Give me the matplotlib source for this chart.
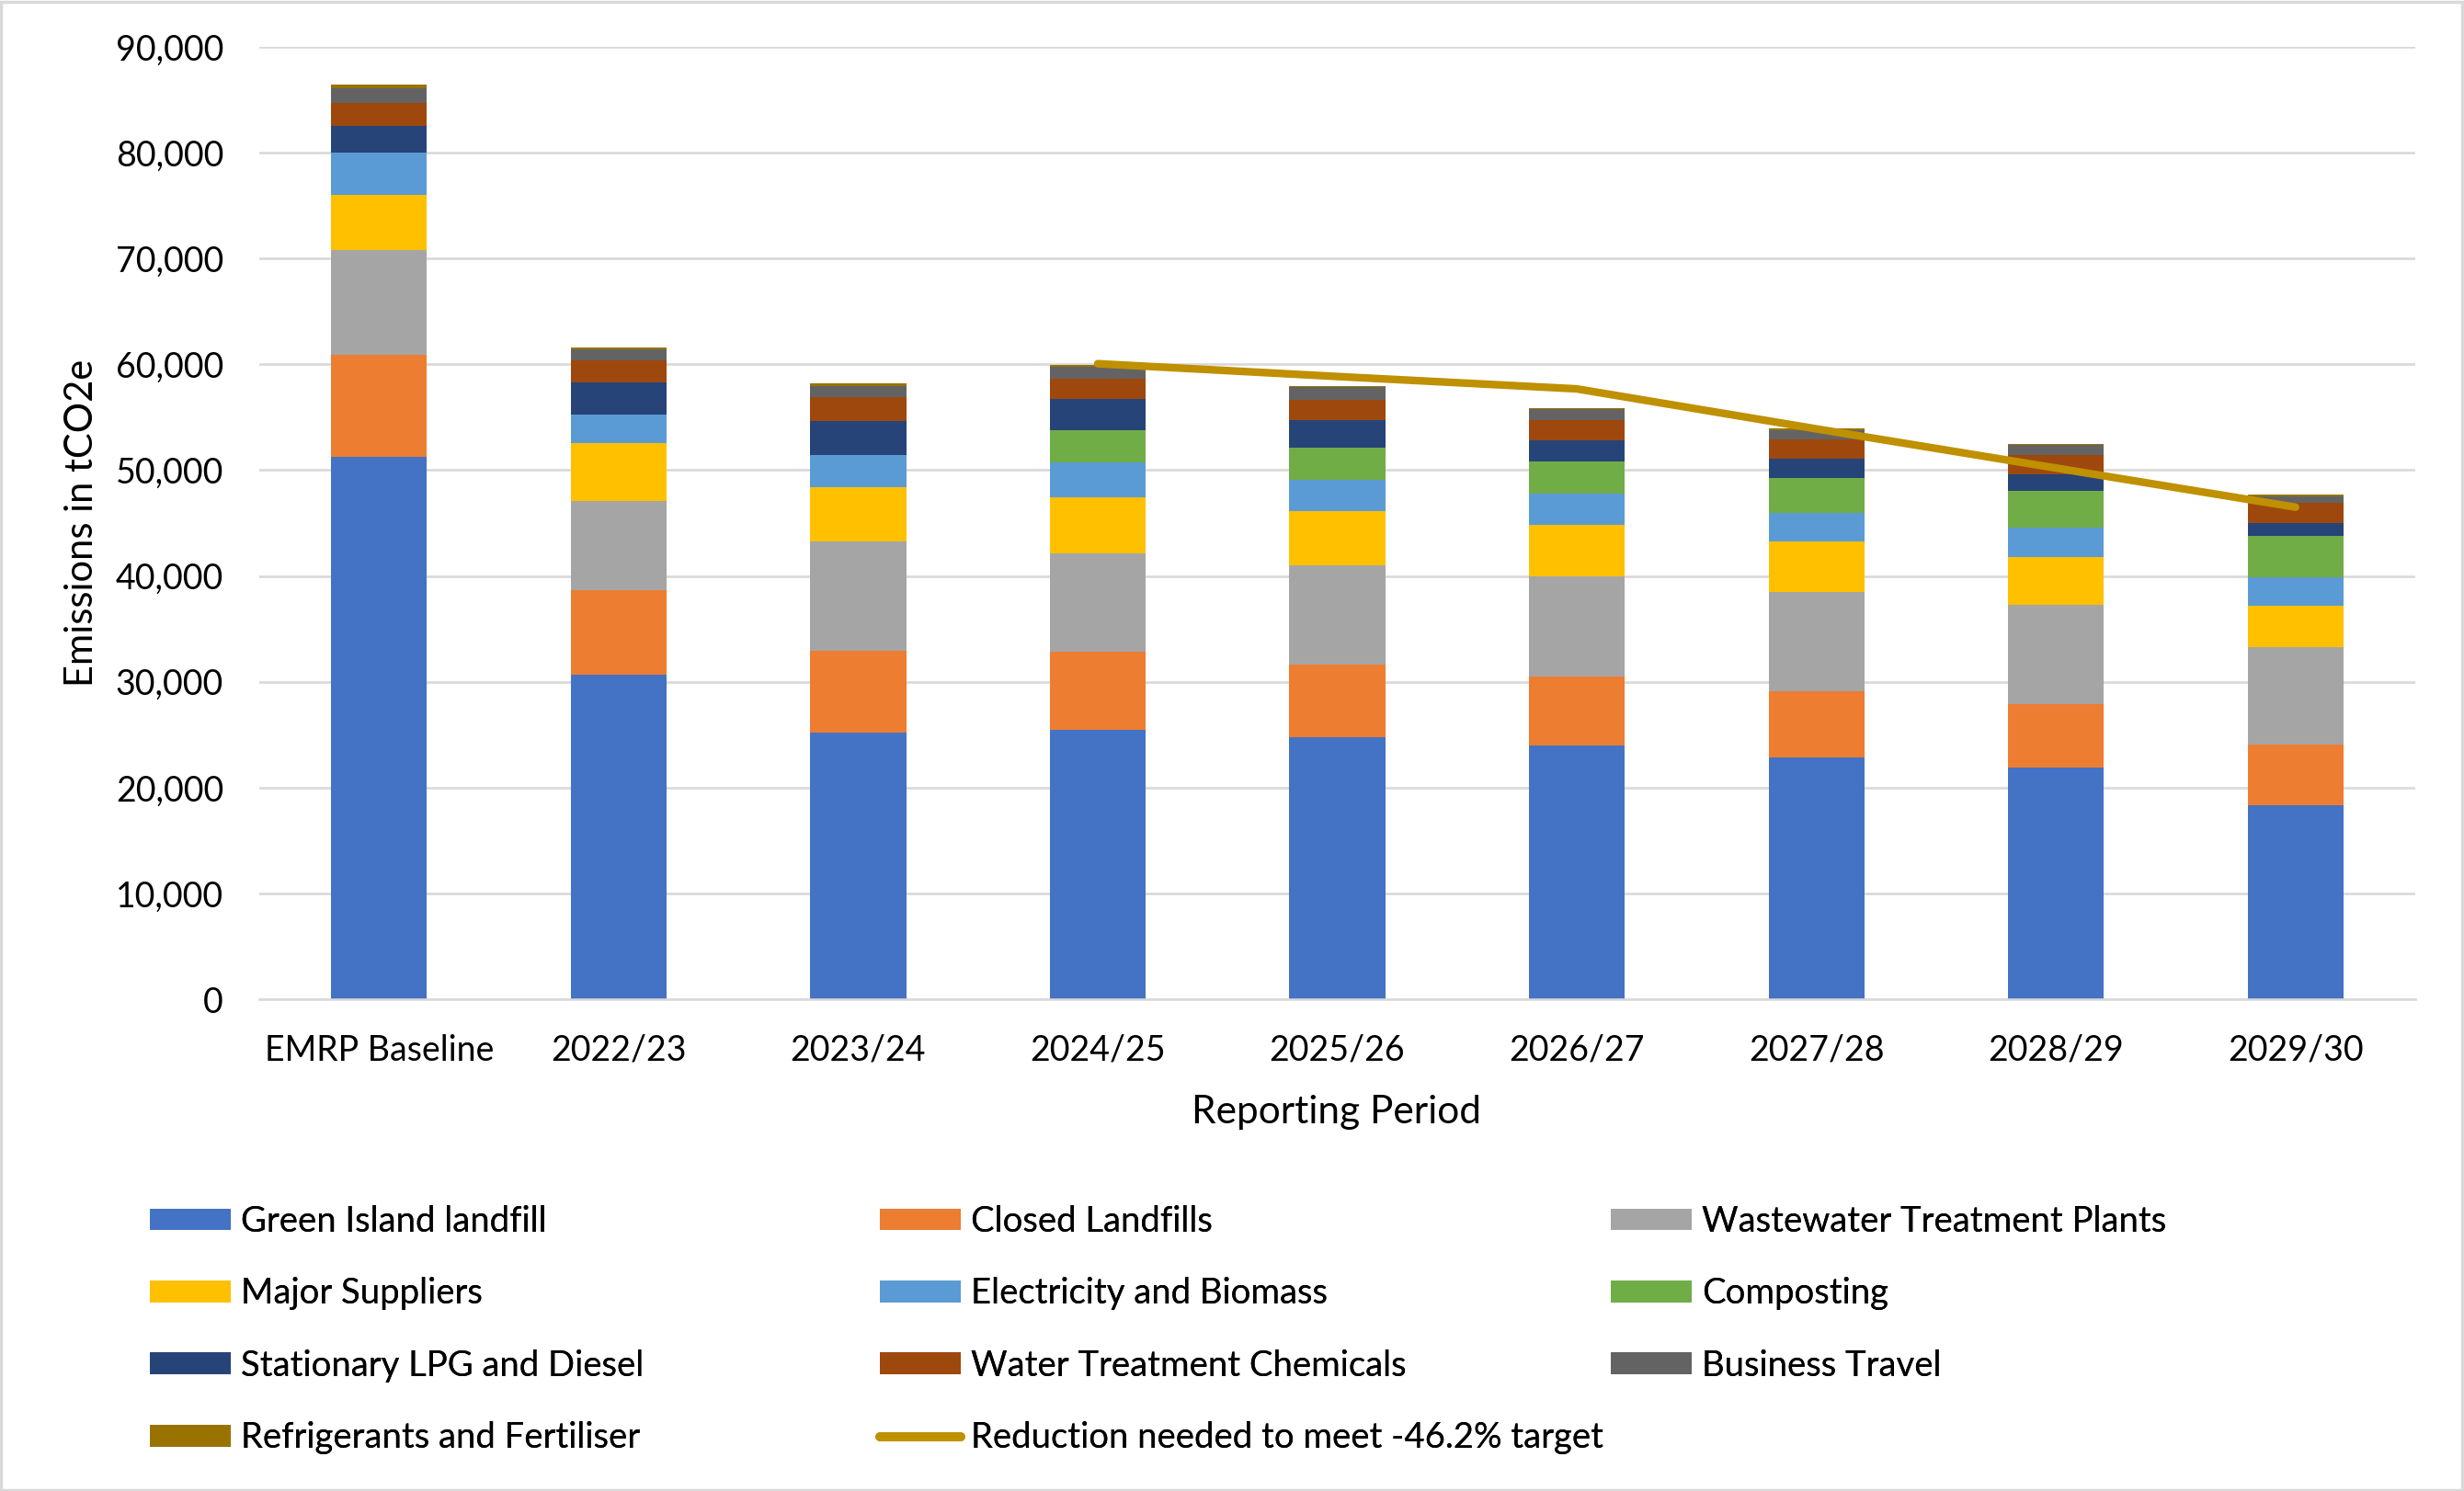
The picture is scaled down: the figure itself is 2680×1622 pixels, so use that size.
import numpy as np
import matplotlib.pyplot as plt
from matplotlib.patches import Rectangle, Patch
from matplotlib.lines import Line2D
from matplotlib.ticker import FuncFormatter

plt.rcParams["font.family"] = ["Lato", "DejaVu Sans"]

periods = ["EMRP Baseline", "2022/23", "2023/24", "2024/25", "2025/26",
           "2026/27", "2027/28", "2028/29", "2029/30"]

series_names = [
    "Green Island landfill",
    "Closed Landfills",
    "Wastewater Treatment Plants",
    "Major Suppliers",
    "Electricity and Biomass",
    "Composting",
    "Stationary LPG and Diesel",
    "Water Treatment Chemicals",
    "Business Travel",
    "Refrigerants and Fertiliser",
]
series_colors = ["#4472C4", "#ED7D31", "#A5A5A5", "#FFC000", "#5B9BD5",
                 "#70AD47", "#264478", "#9E480E", "#636363", "#997300"]

green_island = [51260, 30640, 25220, 25490, 24780, 23970, 22850, 21900, 18320]
closed_landfills = [9640, 8060, 7740, 7310, 6870, 6530, 6240, 6000, 5740]
wastewater = [9860, 8410, 10340, 9370, 9360, 9470, 9370, 9390, 9170]
major_suppliers = [5220, 5480, 5100, 5250, 5090, 4840, 4790, 4460, 3940]
electricity = [4020, 2630, 3000, 3280, 2970, 2930, 2690, 2820, 2730]
composting = [0, 0, 0, 3070, 3050, 3040, 3280, 3460, 3850]
lpg_diesel = [2560, 3090, 3250, 2930, 2630, 2000, 1820, 1540, 1210]
water_chem = [2120, 2090, 2260, 1910, 1890, 1940, 1830, 1880, 1910]
business_travel = [1400, 1000, 1000, 1160, 1190, 1050, 930, 900, 680]
refrigerants = [365, 230, 300, 130, 100, 80, 110, 90, 100]

target_periods = ["2024/25", "2025/26", "2026/27", "2027/28", "2028/29", "2029/30"]
target_values = [60060, 58850, 57680, 53900, 50200, 46500]
target_label = "Reduction needed to meet -46.2% target"
target_color = "#BF9000"

all_series = [green_island, closed_landfills, wastewater, major_suppliers,
              electricity, composting, lpg_diesel, water_chem,
              business_travel, refrigerants]

W, H = 2680, 1622
fig = plt.figure(figsize=(W / 100, H / 100), dpi=100)
ax = fig.add_axes([282 / W, 1 - 1087 / H, (2627 - 282) / W, (1087 - 51) / H])

x = np.arange(len(periods))
bottom = np.zeros(len(periods))
for vals, col in zip(all_series, series_colors):
    ax.bar(x, vals, width=0.4, bottom=bottom, color=col, linewidth=0, zorder=2)
    bottom += np.array(vals)

tx = [periods.index(p) for p in target_periods]
ax.plot(tx, target_values, color=target_color, linewidth=6,
        solid_capstyle="round", solid_joinstyle="round", zorder=3)

ax.set_xlim(-0.5, len(periods) - 0.5)
ax.set_ylim(0, 90000)
ax.set_yticks(np.arange(0, 90001, 10000))
ax.yaxis.set_major_formatter(FuncFormatter(lambda v, p: f"{v:,.0f}"))
ax.set_xticks(x)
ax.set_xticklabels(periods)
ax.grid(axis="y", color="#D9D9D9", linewidth=1.9)
ax.set_axisbelow(True)
for s in ["top", "right", "left"]:
    ax.spines[s].set_visible(False)
ax.spines["bottom"].set_color("#D9D9D9")
ax.spines["bottom"].set_linewidth(1.9)
ax.tick_params(axis="both", length=0, labelsize=27, colors="#000000")
ax.tick_params(axis="y", pad=28)
ax.tick_params(axis="x", pad=27)

fig.text(89 / W, 1 - 569 / H, "Emissions in tCO2e", rotation=90,
         ha="center", va="center", fontsize=30)
fig.text(1454 / W, 1 - 1210 / H, "Reporting Period",
         ha="center", va="center", fontsize=30.5)

# chart border
fig.patches.append(Rectangle((1 / W, 1 / H), 1 - 3 / W, 1 - 3 / H,
                             transform=fig.transFigure, fill=False,
                             edgecolor="#D9D9D9", linewidth=2.5))

# legend, three columns laid out row by row
patches = [Patch(facecolor=c, label=n) for n, c in zip(series_names, series_colors)]
line_handle = Line2D([], [], color=target_color, linewidth=7,
                     solid_capstyle="round", label=target_label)
columns = [
    [patches[0], patches[3], patches[6], patches[9]],
    [patches[1], patches[4], patches[7], line_handle],
    [patches[2], patches[5], patches[8]],
]
col_x = [163, 957, 1752]
for hs, cx in zip(columns, col_x):
    leg = fig.legend(handles=hs, loc="upper left",
                     bbox_to_anchor=(cx / W, 1 - 1311 / H),
                     frameon=False, fontsize=27.5, borderpad=0,
                     borderaxespad=0, handlelength=2.3, handleheight=0.58,
                     handletextpad=0.29, labelspacing=1.11)
    fig.add_artist(leg)

fig.savefig("out.png", dpi=100)
